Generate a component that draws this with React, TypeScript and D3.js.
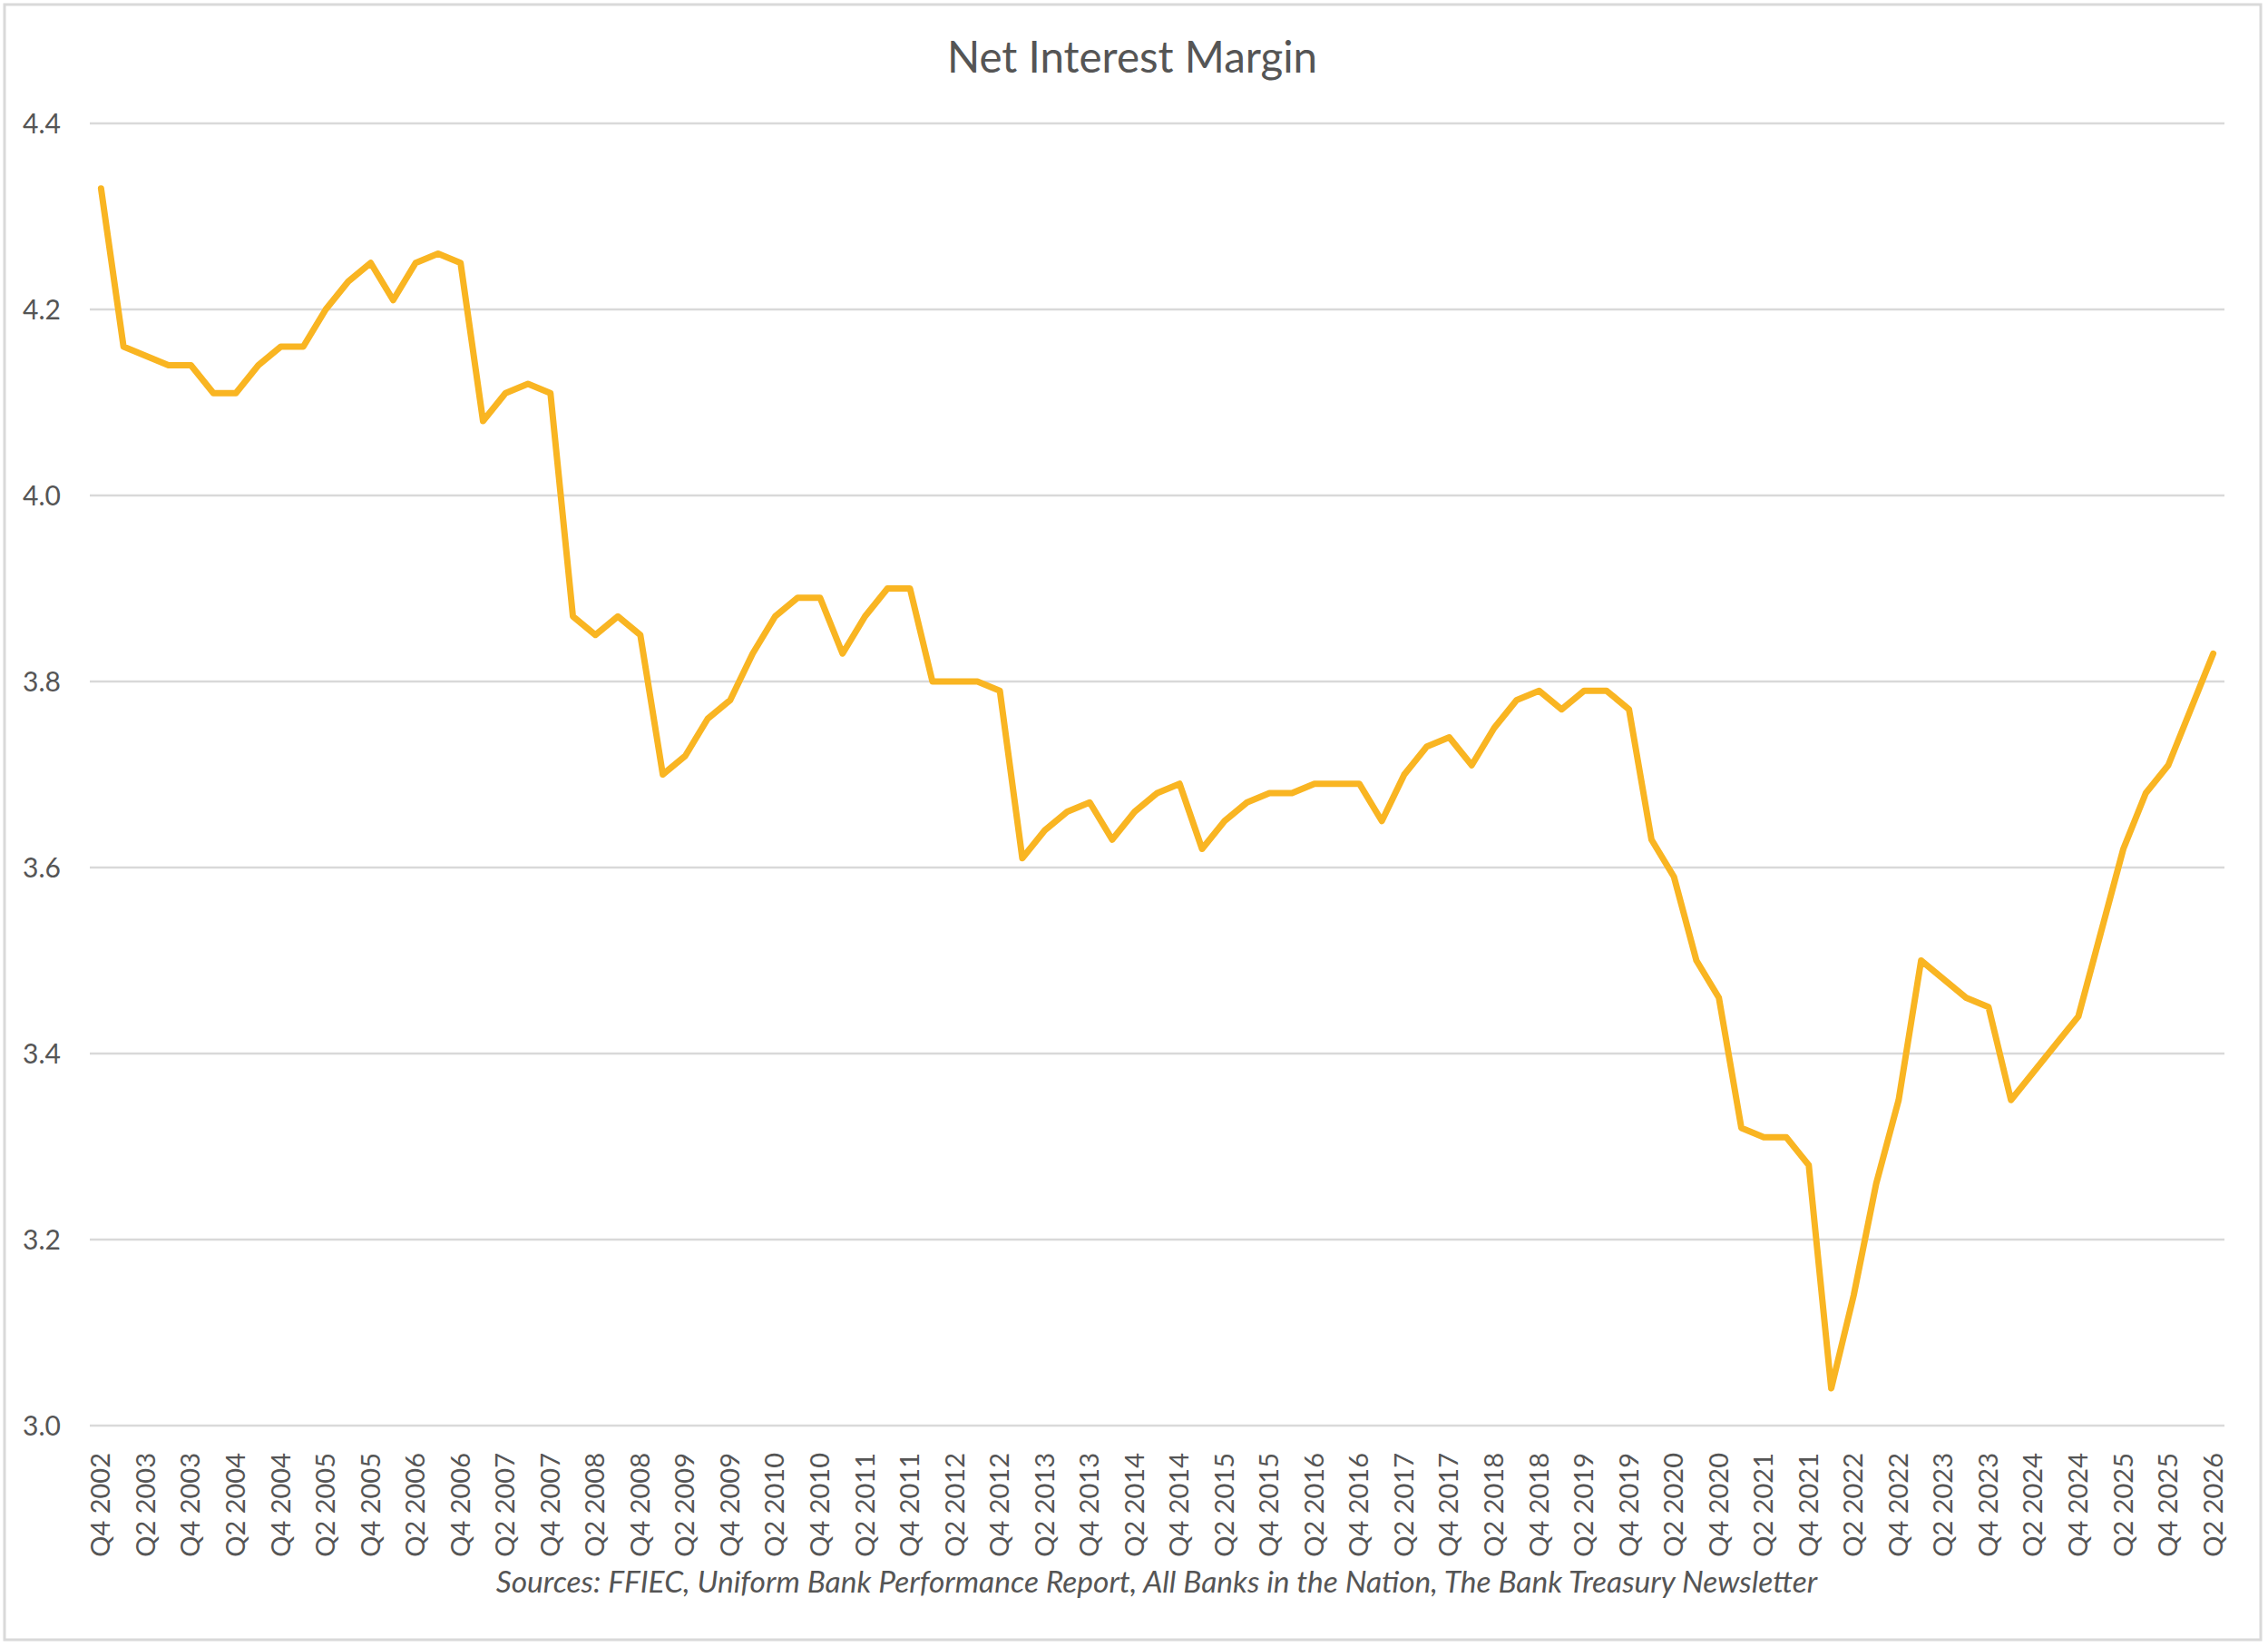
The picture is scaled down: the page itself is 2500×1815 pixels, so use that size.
import React from "react";
import * as d3 from "d3";

const quarters: string[] = (() => {
  const out: string[] = [];
  for (let y = 2002; y <= 2026; y++) {
    for (let q = 1; q <= 4; q++) {
      if (y === 2002 && q < 4) continue;
      if (y === 2026 && q > 2) continue;
      out.push(`Q${q} ${y}`);
    }
  }
  return out;
})();

const nimValues: number[] = [
  4.33, 4.16, 4.15, 4.14, 4.14, 4.11, 4.11, 4.14, 4.16, 4.16,
  4.2, 4.23, 4.25, 4.21, 4.25, 4.26, 4.25, 4.08, 4.11, 4.12,
  4.11, 3.87, 3.85, 3.87, 3.85, 3.7, 3.72, 3.76, 3.78, 3.83,
  3.87, 3.89, 3.89, 3.83, 3.87, 3.9, 3.9, 3.8, 3.8, 3.8,
  3.79, 3.61, 3.64, 3.66, 3.67, 3.63, 3.66, 3.68, 3.69, 3.62,
  3.65, 3.67, 3.68, 3.68, 3.69, 3.69, 3.69, 3.65, 3.7, 3.73,
  3.74, 3.71, 3.75, 3.78, 3.79, 3.77, 3.79, 3.79, 3.77, 3.63,
  3.59, 3.5, 3.46, 3.32, 3.31, 3.31, 3.28, 3.04, 3.14, 3.26,
  3.35, 3.5, 3.48, 3.46, 3.45, 3.35, 3.38, 3.41, 3.44, 3.53,
  3.62, 3.68, 3.71, 3.77, 3.83,
];

const yTicks: number[] = [3.0, 3.2, 3.4, 3.6, 3.8, 4.0, 4.2, 4.4];
const titleText = "Net Interest Margin";
const sourceText =
  "Sources: FFIEC, Uniform Bank Performance Report, All Banks in the Nation, The Bank Treasury Newsletter";

const W = 2500;
const H = 1815;
const FONT = "Lato, 'Open Sans', sans-serif";
const TEXT = "#555555";

export default function App() {
  const left = 99;
  const right = 2452;
  const top = 136;
  const bottom = 1571;

  const x = d3
    .scaleBand<string>()
    .domain(quarters)
    .range([left, right])
    .paddingInner(0)
    .paddingOuter(0);
  const y = d3.scaleLinear().domain([3.0, 4.4]).range([bottom, top]);
  const cx = (q: string) => (x(q) ?? 0) + x.bandwidth() / 2;

  const line = d3
    .line<number>()
    .x((_, i) => cx(quarters[i]))
    .y((d) => y(d));

  const labeled = quarters.filter((_, i) => i % 2 === 0);

  return (
    <svg
      width={W}
      height={H}
      style={{ position: "absolute", left: 0, top: 0, background: "#fff" }}
      fontFamily={FONT}
    >
      <rect x={0} y={0} width={W} height={H} fill="#fff" />
      <rect
        x={5}
        y={5}
        width={2487}
        height={1802}
        fill="none"
        stroke="#D9D9D9"
        strokeWidth={3}
      />
      <text
        x={1248}
        y={80}
        textAnchor="middle"
        fontSize={47.5}
        fill={TEXT}
      >
        {titleText}
      </text>
      {yTicks.map((t) => (
        <g key={t}>
          <line
            x1={left}
            x2={right}
            y1={y(t)}
            y2={y(t)}
            stroke="#D9D9D9"
            strokeWidth={2.5}
          />
          <text
            x={67}
            y={y(t)}
            dy="0.36em"
            textAnchor="end"
            fontSize={30}
            fill={TEXT}
          >
            {t.toFixed(1)}
          </text>
        </g>
      ))}
      <path
        d={line(nimValues) ?? ""}
        fill="none"
        stroke="#F9B522"
        strokeWidth={7}
        strokeLinejoin="round"
        strokeLinecap="round"
      />
      {labeled.map((q) => (
        <text
          key={q}
          transform={`translate(${cx(q) + 10},1601) rotate(-90)`}
          textAnchor="end"
          fontSize={29}
          fill={TEXT}
        >
          {q}
        </text>
      ))}
      <text
        x={1275}
        y={1755}
        textAnchor="middle"
        fontSize={33.5}
        fontStyle="italic"
        fill={TEXT}
      >
        {sourceText}
      </text>
    </svg>
  );
}
